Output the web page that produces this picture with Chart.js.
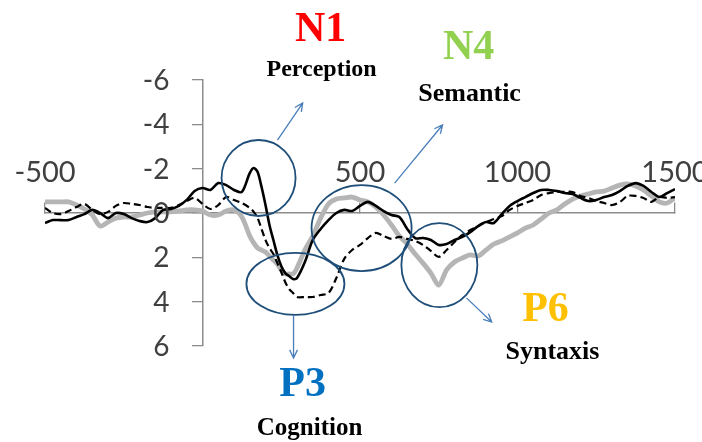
<!DOCTYPE html>
<html>
<head>
<meta charset="utf-8">
<script src="https://cdn.jsdelivr.net/npm/chart.js@4.4.1/dist/chart.umd.min.js"></script>
<style>
  html, body { margin: 0; padding: 0; background: #ffffff; }
  canvas { display: block; }
</style>
</head>
<body>
<canvas id="erp" width="702" height="442"></canvas>
<script>
// Sample times (ms from stimulus onset)
const timeMs = [
  -500, -475, -450, -425, -400, -375, -350, -325, -300, -275,
  -250, -225, -200, -175, -150, -125, -100, -75, -50, -25,
  0, 25, 50, 75, 100, 125, 150,
  162.5, 175, 187.5, 200, 212.5, 225, 237.5, 250, 262.5, 275, 287.5, 300,
  325, 350, 375, 400, 425, 450, 475, 500, 525, 550,
  575, 600, 625, 650, 675, 700, 725, 750, 775, 800,
  825, 850, 875, 900, 925, 950, 975, 1000, 1025, 1050,
  1075, 1100, 1125, 1150, 1175, 1200, 1225, 1250, 1275, 1300,
  1325, 1350, 1375, 1400, 1425, 1450, 1475, 1500
];

// Amplitudes (µV, negative up)
const solidWave = [
  0.45, 0.32, 0.32, 0.32, 0.18, 0.05, -0.14, 0, 0.23, 0,
  0.05, 0.23, 0.36, 0.41, 0.23, -0.14, -0.18, -0.32, -0.59, -0.99,
  -1.13, -1.04, -1.35, -1.26, -1.04, -0.95, -1.8,
  -2.03, -1.85, -1.17, -0.36, 0.54, 1.22, 1.89, 2.39, 2.71, 2.84, 2.98, 2.93,
  2.21, 1.22, 0.72, 0.32, 0, -0.14, -0.09, -0.32, -0.5, -0.32,
  -0.09, 0.09, 0.18, 0.72, 1.13, 1.13, 1.22, 1.44, 1.4, 1.22,
  1.08, 0.86, 0.59, 0.41, 0.45, 0.05, -0.32, -0.54, -0.72, -0.9,
  -1.04, -1.04, -0.99, -0.9, -0.86, -0.68, -0.54, -0.59, -0.72, -0.81,
  -0.99, -1.22, -1.35, -1.22, -0.95, -0.72, -0.9, -1.08
];

const dashedWave = [
  -0.23, 0, 0.05, -0.09, -0.27, -0.41, -0.14, 0.05, -0.05, -0.32,
  -0.45, -0.41, -0.36, -0.27, -0.23, -0.23, -0.23, -0.36, -0.54, -0.68,
  -0.41, -0.18, -0.36, -0.72, -0.59, -0.45, -0.23,
  -0.05, 0.23, 0.72, 1.22, 1.58, 1.85, 2.26, 2.66, 3.11, 3.43, 3.61, 3.79,
  3.79, 3.79, 3.7, 3.61, 2.93, 2.07, 1.67, 1.44, 1.13, 0.9,
  1.04, 1.17, 1.08, 1.17, 1.26, 1.44, 1.71, 1.98, 1.67, 1.31,
  0.99, 0.77, 0.59, 0.41, 0.27, 0.14, -0.14, -0.32, -0.45, -0.59,
  -0.81, -0.9, -0.95, -0.95, -0.95, -0.77, -0.68, -0.54, -0.45, -0.36,
  -0.5, -0.77, -0.77, -0.68, -0.5, -0.72, -0.68, -0.72
];

const grayWave = [
  -0.5, -0.5, -0.5, -0.5, -0.36, -0.18, 0.09, 0.59, 0.41, 0.23,
  0.18, 0.18, 0.09, 0, -0.05, -0.05, -0.05, -0.09, -0.14, -0.14,
  -0.09, 0.09, 0.09, -0.09, -0.14, 0.18, 1.04,
  1.35, 1.58, 1.67, 1.76, 1.94, 2.12, 2.3, 2.57, 2.75, 2.75, 2.75, 2.48,
  1.67, 1.04, 0.23, -0.41, -0.63, -0.68, -0.72, -0.59, -0.5, -0.27,
  0.09, 0.54, 1.04, 1.4, 1.85, 2.26, 2.71, 3.25, 2.57, 2.21,
  2.03, 1.89, 1.94, 1.67, 1.4, 1.26, 1.08, 0.9, 0.68, 0.54,
  0.27, 0, -0.14, -0.41, -0.63, -0.77, -0.86, -0.95, -0.99, -1.13,
  -1.26, -1.31, -1.22, -1.04, -0.77, -0.5, -0.45, -0.68
];

// Axis ticks
const xTickValues = [-500, 0, 500, 1000, 1500];
const xTickLabels = ['-500', '', '500', '1000', '1500'];
const yTickValues = [-6, -4, -2, 0, 2, 4, 6];

// ERP components and what they index
const componentNames = ['N1', 'N4', 'P3', 'P6'];
const componentRoles = ['Perception', 'Semantic', 'Cognition', 'Syntaxis'];
const componentColors = ['#ff0000', '#92d050', '#0070c0', '#ffc000'];

const toPoints = vals => timeMs.map((t, i) => ({ x: t, y: vals[i] }));

// Rings, arrows and captions are anchored in data units (ms, µV); ring radii and font sizes in px
const marks = [
  { ring: [178, -1.58, 37, 38], arrow: [238, -3.29, 318, -4.96], name: [375, -8.25], role: [378, -6.45], roleSize: 24 },
  { ring: [505, 0.68, 50, 43],  arrow: [610, -1.35, 762, -3.97], name: [845, -7.42], role: [848, -5.37], roleSize: 26 },
  { ring: [295, 3.2, 49, 31],   arrow: [289, 4.6, 289, 6.54],    name: [318, 7.76],  role: [340, 9.72],  roleSize: 25 },
  { ring: [752, 2.35, 38, 42],  arrow: [838, 3.83, 918, 4.92],   name: [1089, 4.38], role: [1111, 6.27], roleSize: 26 }
];

const Y_LABEL_GAP = 33; // px between the vertical axis line and the right edge of its labels

const componentPlugin = {
  id: 'components',
  afterDatasetsDraw(chart) {
    const { ctx, scales: { x, y } } = chart;
    ctx.save();

    // vertical-axis labels, set left of the tick marks
    const axisX = x.getPixelForValue(0);
    ctx.fillStyle = '#404040';
    ctx.font = '28px Lato, "Open Sans", sans-serif';
    ctx.textAlign = 'right';
    ctx.textBaseline = 'middle';
    yTickValues.forEach(v => ctx.fillText(String(v), axisX - Y_LABEL_GAP, y.getPixelForValue(v) + 1));

    marks.forEach((m, i) => {
      // ring
      ctx.beginPath();
      ctx.ellipse(x.getPixelForValue(m.ring[0]), y.getPixelForValue(m.ring[1]), m.ring[2], m.ring[3], 0, 0, Math.PI * 2);
      ctx.strokeStyle = '#1f4e79';
      ctx.lineWidth = 1.8;
      ctx.stroke();
      // arrow
      const x1 = x.getPixelForValue(m.arrow[0]), y1 = y.getPixelForValue(m.arrow[1]);
      const x2 = x.getPixelForValue(m.arrow[2]), y2 = y.getPixelForValue(m.arrow[3]);
      const a = Math.atan2(y2 - y1, x2 - x1);
      ctx.beginPath();
      ctx.moveTo(x1, y1);
      ctx.lineTo(x2, y2);
      ctx.moveTo(x2 - 9 * Math.cos(a - 0.45), y2 - 9 * Math.sin(a - 0.45));
      ctx.lineTo(x2, y2);
      ctx.lineTo(x2 - 9 * Math.cos(a + 0.45), y2 - 9 * Math.sin(a + 0.45));
      ctx.strokeStyle = '#4a7ebb';
      ctx.lineWidth = 1.3;
      ctx.stroke();
      // captions
      ctx.textAlign = 'center';
      ctx.textBaseline = 'middle';
      ctx.fillStyle = componentColors[i];
      ctx.font = 'bold 42px "Liberation Serif", "Times New Roman", serif';
      ctx.fillText(componentNames[i], x.getPixelForValue(m.name[0]), y.getPixelForValue(m.name[1]));
      ctx.fillStyle = '#000000';
      ctx.font = 'bold ' + m.roleSize + 'px "Liberation Serif", "Times New Roman", serif';
      ctx.fillText(componentRoles[i], x.getPixelForValue(m.role[0]), y.getPixelForValue(m.role[1]));
    });
    ctx.restore();
  }
};

new Chart(document.getElementById('erp'), {
  type: 'line',
  data: {
    datasets: [
      { data: toPoints(solidWave), borderColor: '#000000', borderWidth: 2.6, tension: 0.3 },
      { data: toPoints(dashedWave), borderColor: '#000000', borderWidth: 2.2, borderDash: [7, 4], tension: 0.3 },
      { data: toPoints(grayWave), borderColor: '#b5b5b5', borderWidth: 4.8, tension: 0.3 }
    ]
  },
  options: {
    responsive: false,
    animation: false,
    devicePixelRatio: 1,
    layout: { padding: { left: 45, right: 27, top: 80, bottom: 96 } },
    elements: { point: { radius: 0 } },
    plugins: { legend: { display: false }, tooltip: { enabled: false } },
    scales: {
      x: {
        type: 'linear',
        position: { y: 0 },
        min: -500,
        max: 1500,
        afterBuildTicks: s => { s.ticks = xTickValues.map(v => ({ value: v })); },
        afterFit: s => { s.height = 0; },
        border: { display: true, color: '#8c8c8c', width: 1.5 },
        grid: { drawOnChartArea: false, drawTicks: true, tickLength: -11, color: '#8c8c8c', lineWidth: 1.3 },
        ticks: {
          padding: -47,
          maxRotation: 0,
          autoSkip: false,
          color: '#404040',
          font: { family: 'Lato', size: 29 },
          callback: v => xTickLabels[xTickValues.indexOf(v)]
        }
      },
      y: {
        type: 'linear',
        position: { x: 0 },
        reverse: true,
        min: -6,
        max: 6,
        afterBuildTicks: s => { s.ticks = yTickValues.map(v => ({ value: v })); },
        afterFit: s => { s.width = 0; },
        border: { display: true, color: '#8c8c8c', width: 1.5 },
        grid: { drawOnChartArea: false, drawTicks: true, tickLength: 10, color: '#8c8c8c', lineWidth: 1.3 },
        ticks: { display: false }
      }
    }
  },
  plugins: [componentPlugin]
});
</script>
</body>
</html>
